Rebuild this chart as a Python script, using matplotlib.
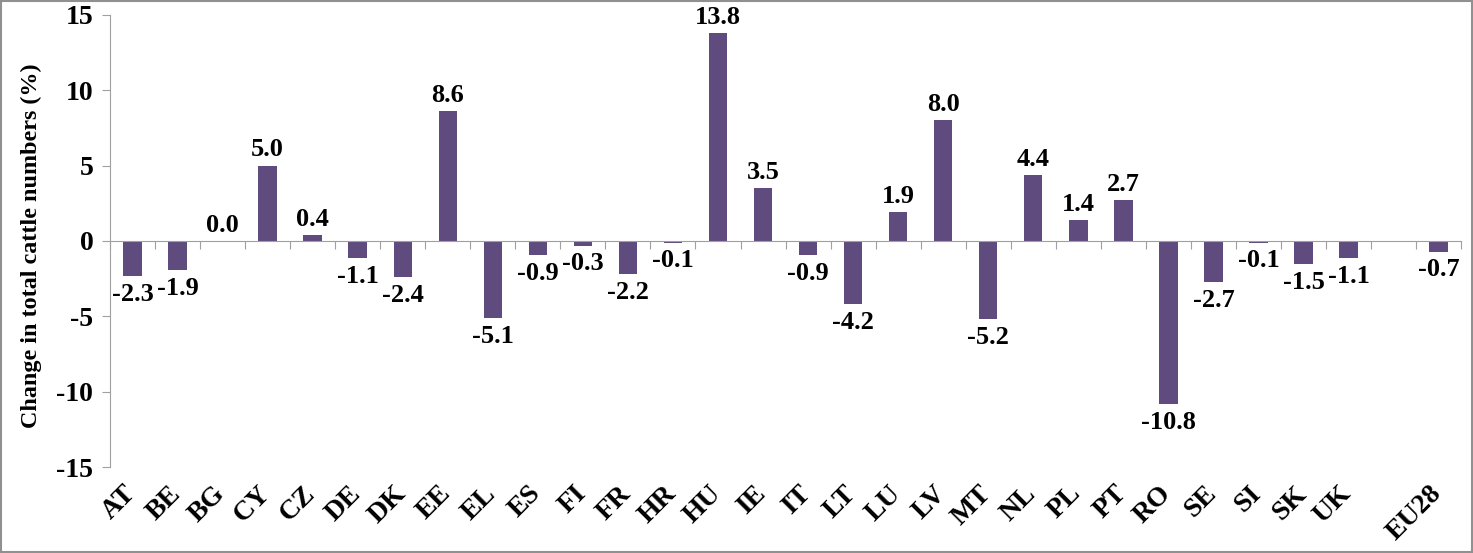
import numpy as np
import matplotlib.pyplot as plt
from matplotlib.patches import Rectangle
import matplotlib.transforms as mtransforms

countries = ['AT', 'BE', 'BG', 'CY', 'CZ', 'DE', 'DK', 'EE', 'EL', 'ES', 'FI', 'FR',
             'HR', 'HU', 'IE', 'IT', 'LT', 'LU', 'LV', 'MT', 'NL', 'PL', 'PT', 'RO',
             'SE', 'SI', 'SK', 'UK', '', 'EU28']
change = [-2.3, -1.9, 0.0, 5.0, 0.4, -1.1, -2.4, 8.6, -5.1, -0.9, -0.3, -2.2,
          -0.1, 13.8, 3.5, -0.9, -4.2, 1.9, 8.0, -5.2, 4.4, 1.4, 2.7, -10.8,
          -2.7, -0.1, -1.5, -1.1, np.nan, -0.7]

plt.rcParams['font.family'] = ['Liberation Serif', 'DejaVu Serif']
plt.rcParams['font.weight'] = 'bold'
plt.rcParams['axes.unicode_minus'] = False

fig = plt.figure(figsize=(14.73, 5.53), dpi=100)
ax = fig.add_axes([0.0747, 0.1555, 0.9172, 0.8174])

x = np.arange(len(countries))
vals = np.array(change)
ax.bar(x, vals, width=0.41, color='#5F4B7E', zorder=2)

for xi, v in zip(x, vals):
    if np.isnan(v):
        continue
    if v >= 0:
        ax.annotate('%.1f' % v, (xi, v), xytext=(0, 3), textcoords='offset points',
                    ha='center', va='bottom', fontsize=19, fontweight='bold')
    else:
        ax.annotate('%.1f' % v, (xi, v), xytext=(0, -5), textcoords='offset points',
                    ha='center', va='top', fontsize=19, fontweight='bold')

ax.set_xlim(-0.5, len(countries) - 0.5)
ax.set_ylim(-15, 15)
ax.set_yticks(np.arange(-15, 16, 5))
ax.tick_params(axis='y', labelsize=20, length=6, color='#A0A0A0', pad=6)
for lab in ax.get_yticklabels():
    lab.set_fontweight('bold')

ax.spines['top'].set_visible(False)
ax.spines['right'].set_visible(False)
ax.spines['left'].set_color('#A0A0A0')
ax.spines['bottom'].set_position(('data', 0))
ax.spines['bottom'].set_color('#A0A0A0')
ax.set_xticks(np.arange(len(countries) + 1) - 0.5)
ax.set_xticklabels([])
ax.tick_params(axis='x', direction='out', length=6, color='#A0A0A0')

trans = mtransforms.blended_transform_factory(ax.transData, ax.transAxes)
offs = mtransforms.offset_copy(trans, fig=fig, x=8, y=-14, units='dots')
for xi, name in zip(x, countries):
    ax.text(xi, 0, name, transform=offs, rotation=45, ha='right', va='top',
            fontsize=20, fontweight='bold')

ax.set_ylabel('Change in total cattle numbers (%)', fontsize=17.4, fontweight='bold')
ax.yaxis.set_label_coords(-0.050, 0.49)

fig.patches.append(Rectangle((0.001, 0.002), 0.998, 0.996, transform=fig.transFigure,
                             fill=False, edgecolor='#909090', linewidth=1.5))

fig.savefig('out.png', dpi=100)
